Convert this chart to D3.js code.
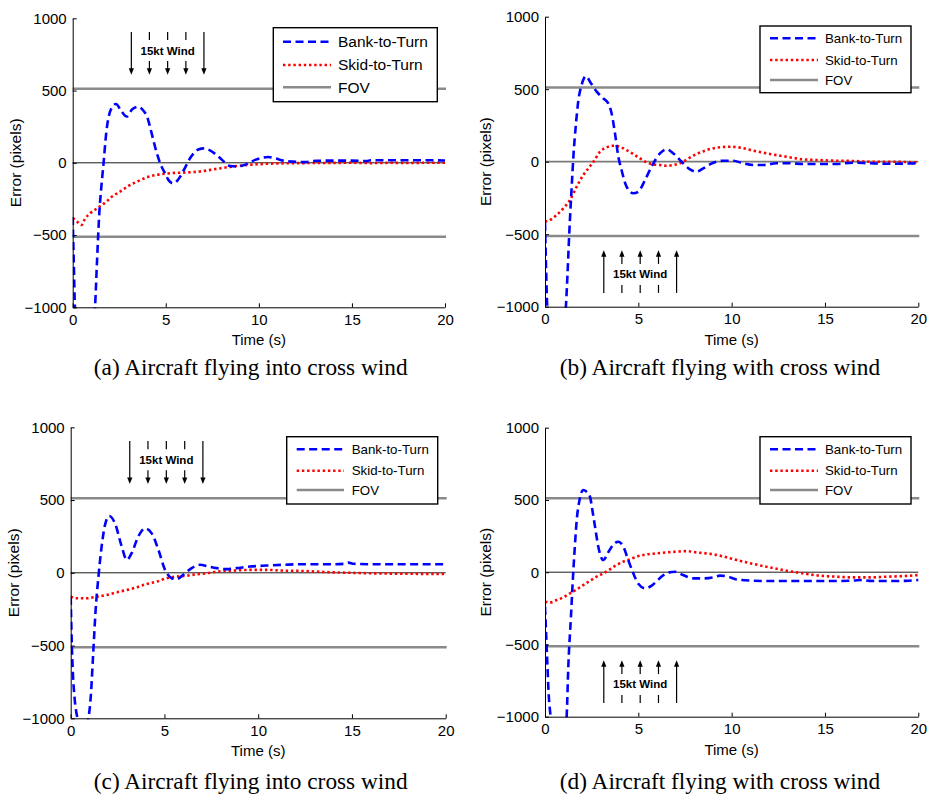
<!DOCTYPE html>
<html>
<head>
<meta charset="utf-8">
<script src="https://cdn.jsdelivr.net/npm/d3@7"></script>
<style>
  body { margin: 0; background: #fff; }
  svg { display: block; }
</style>
</head>
<body>
<div id="chart"></div>
<script>
// values: [time (s), error (pixels)]
var bankA = [[0,-375],[0.06,-700],[0.12,-1000],[0.3,-1250],[0.7,-1350],[1.05,-1200],[1.2,-1000],[1.3,-700],[1.43,-347],[1.55,-150],[1.64,-27],[1.82,227],[2.04,365],[2.33,407],[2.6,360],[2.9,320],[3.2,370],[3.53,388],[3.8,360],[4.0,319],[4.17,240],[4.33,158],[4.5,75],[4.69,0],[4.96,-73],[5.15,-120],[5.4,-142],[5.7,-110],[6.03,-35],[6.25,20],[6.5,65],[6.75,92],[7.05,100],[7.35,88],[7.6,67],[7.9,35],[8.15,5],[8.45,-22],[8.8,-25],[9.1,-20],[9.5,0],[9.8,20],[10.1,32],[10.5,40],[10.9,30],[11.3,15],[11.8,8],[12.5,5],[13.1,14],[14,15],[15,15],[15.8,12],[16,18],[17,18],[18,18],[19,18],[20,16]];
var skidA = [[0,-384],[0.15,-395],[0.3,-415],[0.48,-430],[0.65,-390],[0.93,-350],[1.2,-325],[1.43,-304],[1.8,-270],[2.1,-235],[2.54,-200],[3.0,-160],[3.44,-131],[4.0,-100],[4.5,-84],[5.0,-75],[5.5,-70],[6.1,-67],[6.84,-60],[7.73,-42],[8.63,-25],[9.5,-14],[10.4,-7],[11.5,-3],[12.5,-2],[13.5,-1],[15,0],[16,-2],[17,0],[18,-1],[19,0],[20,0]];

var bankB = [[0,-420],[0.06,-750],[0.12,-1000],[0.3,-1250],[0.7,-1350],[1.0,-1200],[1.12,-1000],[1.2,-793],[1.3,-494],[1.43,-172],[1.52,34],[1.66,264],[1.79,425],[1.96,529],[2.2,590],[2.41,552],[2.77,483],[3.12,437],[3.39,402],[3.57,333],[3.75,195],[3.93,34],[4.1,-57],[4.37,-172],[4.73,-218],[5.0,-207],[5.36,-126],[5.71,-34],[6.16,57],[6.52,85],[6.88,57],[7.32,0],[7.77,-53],[8.12,-69],[8.48,-46],[9.02,-7],[9.55,7],[10.09,7],[10.6,-11],[11.16,-23],[11.7,-23],[12.4,-11],[13.1,-11],[13.8,-16],[15.6,-16],[16.5,-7],[17.4,-11],[18.3,-14],[20,-11]];
var skidB = [[0,-414],[0.27,-402],[0.625,-368],[0.98,-322],[1.34,-264],[1.7,-172],[2.05,-92],[2.32,-46],[2.6,0],[2.95,69],[3.3,99],[3.66,110],[4.0,103],[4.37,80],[4.73,53],[5.09,23],[5.45,-5],[5.8,-18],[6.16,-23],[6.5,-28],[6.88,-23],[7.23,-11],[7.6,16],[8.12,53],[8.66,80],[9.2,97],[9.9,103],[10.45,97],[11.16,76],[12.05,53],[12.95,34],[13.84,16],[14.7,11],[15.6,7],[16.5,5],[17.4,0],[18.3,0],[20,-5]];

var bankC = [[0,-164],[0.05,-450],[0.12,-700],[0.2,-850],[0.36,-1000],[0.5,-1060],[0.75,-1060],[0.94,-1000],[1.07,-851],[1.2,-553],[1.33,-255],[1.48,-26],[1.65,181],[1.83,329],[2.06,390],[2.36,340],[2.72,181],[2.99,89],[3.25,135],[3.6,248],[3.96,305],[4.32,271],[4.68,157],[5.03,20],[5.39,-37],[5.65,-44],[6.0,-14],[6.45,32],[6.9,55],[7.34,43],[7.79,32],[8.32,25],[8.85,32],[9.56,43],[10.45,50],[11.34,55],[12.23,59],[14,59],[14.6,62],[14.8,70],[15.1,62],[16,59],[18,59],[20,59]];
var skidC = [[0,-164],[0.32,-175],[0.85,-175],[1.39,-164],[1.92,-152],[2.45,-134],[2.99,-118],[3.52,-100],[4.05,-77],[4.58,-61],[5.12,-37],[5.65,-26],[6.19,-20],[6.72,-10],[7.25,-3],[7.79,8],[8.67,15],[9.56,20],[10.45,20],[11.34,15],[12.23,13],[13.1,8],[14,3],[14.9,0],[15.8,-3],[17.5,-6],[20,-8]];

var bankD = [[0,-239],[0.1,-550],[0.2,-850],[0.3,-1000],[0.6,-1300],[0.95,-1250],[1.16,-1000],[1.25,-650],[1.39,-308],[1.52,15],[1.6,180],[1.7,361],[1.85,500],[2.05,569],[2.2,560],[2.41,522],[2.55,420],[2.68,315],[2.85,180],[3.12,84],[3.4,140],[3.65,190],[3.93,211],[4.2,176],[4.46,84],[4.73,-8],[5.0,-80],[5.36,-111],[5.7,-95],[6.0,-60],[6.3,-25],[6.7,-1],[6.96,3],[7.4,-20],[7.95,-43],[8.48,-43],[9.0,-36],[9.38,-24],[9.8,-31],[10.27,-50],[11.16,-59],[12.05,-61],[13.84,-61],[15.5,-61],[16.5,-58],[17.05,-54],[17.4,-60],[18.5,-61],[19.3,-60],[20,-54]];
var skidD = [[0,-204],[0.27,-209],[0.625,-193],[0.98,-174],[1.34,-146],[1.7,-119],[2.05,-89],[2.41,-59],[2.77,-31],[3.12,-8],[3.48,20],[3.84,50],[4.2,73],[4.55,89],[4.9,107],[5.45,123],[5.98,130],[6.52,137],[7.05,142],[7.6,146],[8.12,137],[8.66,130],[9.2,119],[9.73,103],[10.27,84],[11.16,57],[12.05,33],[12.95,10],[13.84,-8],[14.7,-24],[15.6,-31],[16.5,-36],[17.4,-36],[18.3,-31],[19.2,-27],[20,-20]];

var fovLimit = 512;
var windTimes = [3.15, 4.12, 5.1, 6.08, 7.05];
var xTicks = [0, 5, 10, 15, 20];
var yTicks = [-1000, -500, 0, 500, 1000];
var legendLabels = ["Bank-to-Turn", "Skid-to-Turn", "FOV"];
var captions = ["(a) Aircraft flying into cross wind", "(b) Aircraft flying with cross wind",
                "(c) Aircraft flying into cross wind", "(d) Aircraft flying with cross wind"];

var panels = [
  {bank: bankA, skid: skidA, x0: 72.7, x1: 445, yT: 18.3, yB: 307.3, down: true, zeroGray: false,
   leg: {x: 273.3, y: 27.7, w: 164, h: 74, s0: 283, s1: 331, tx: 338, rows: [41.7, 65, 87.3], fs: 15.5},
   cap: captions[0], capX: 250.7, capY: 375, ylabX: 21},
  {bank: bankB, skid: skidB, x0: 545, x1: 918.3, yT: 16.7, yB: 306.7, down: false, zeroGray: true,
   leg: {x: 760, y: 26, w: 151, h: 66.7, s0: 770, s1: 818, tx: 825, rows: [38.3, 60, 80], fs: 13.3},
   cap: captions[1], capX: 720, capY: 375, ylabX: 491},
  {bank: bankC, skid: skidC, x0: 70.7, x1: 445.7, yT: 427.3, yB: 718.3, down: true, zeroGray: false,
   leg: {x: 286.7, y: 436.7, w: 151, h: 67.3, s0: 296.7, s1: 344, tx: 351.7, rows: [449.3, 470.7, 490], fs: 13.3},
   cap: captions[2], capX: 250.7, capY: 789, ylabX: 19},
  {bank: bankD, skid: skidD, x0: 545, x1: 918.3, yT: 427.7, yB: 716.7, down: false, zeroGray: false,
   leg: {x: 760, y: 436.7, w: 151, h: 67.3, s0: 770, s1: 818, tx: 825, rows: [449.3, 470.7, 490], fs: 13.3},
   cap: captions[3], capX: 720, capY: 789, ylabX: 491}
];

var svg = d3.select("#chart").append("svg")
  .attr("width", 933).attr("height", 799)
  .style("font-family", "'Liberation Sans', Arial, sans-serif");

var blue = "#0000ff", red = "#ff0000", gray = "#8a8a8a";

function styleAxis(a) {
  a.attr("font-family", null).attr("font-size", null);
  a.selectAll("text").attr("font-size", 15).attr("fill", "#000");
  a.select(".domain").attr("stroke", "#000");
}

panels.forEach(function(p, i) {
  var x = d3.scaleLinear().domain([0, 20]).range([p.x0, p.x1]);
  var y = d3.scaleLinear().domain([-1000, 1000]).range([p.yB, p.yT]);
  var g = svg.append("g");

  g.append("clipPath").attr("id", "clip" + i)
    .append("rect")
    .attr("x", p.x0).attr("y", p.yT - 2)
    .attr("width", p.x1 - p.x0 + 2).attr("height", p.yB - p.yT + 3);

  // zero line
  g.append("line")
    .attr("x1", x(0)).attr("x2", x(20)).attr("y1", y(0)).attr("y2", y(0))
    .attr("stroke", p.zeroGray ? "#7a7a7a" : "#000")
    .attr("stroke-width", p.zeroGray ? 1.8 : 0.9);

  // FOV limits
  [fovLimit, -fovLimit].forEach(function(v) {
    g.append("line")
      .attr("x1", x(0)).attr("x2", x(20) + 1).attr("y1", y(v)).attr("y2", y(v))
      .attr("stroke", gray).attr("stroke-width", 2.4);
  });

  var line = d3.line()
    .x(function(d) { return x(d[0]); })
    .y(function(d) { return y(d[1]); })
    .curve(d3.curveMonotoneX);

  var curves = g.append("g").attr("clip-path", "url(#clip" + i + ")");
  curves.append("path").datum(p.skid).attr("d", line)
    .attr("fill", "none").attr("stroke", red).attr("stroke-width", 2.6)
    .attr("stroke-dasharray", "2.4,2.8");
  curves.append("path").datum(p.bank).attr("d", line)
    .attr("fill", "none").attr("stroke", blue).attr("stroke-width", 2.6)
    .attr("stroke-dasharray", "8,4.5");

  // axes
  g.append("g").attr("transform", "translate(0," + p.yB + ")")
    .call(d3.axisBottom(x).tickValues(xTicks).tickFormat(d3.format("d"))
      .tickSize(-4).tickSizeOuter(0).tickPadding(7))
    .call(styleAxis);
  g.append("g").attr("transform", "translate(" + p.x0 + ",0)")
    .call(d3.axisLeft(y).tickValues(yTicks).tickFormat(d3.format("d"))
      .tickSize(-4).tickSizeOuter(0).tickPadding(6))
    .call(styleAxis);

  g.append("text")
    .attr("x", (p.x0 + p.x1) / 2).attr("y", p.yB + 38)
    .attr("text-anchor", "middle").attr("font-size", 15).text("Time (s)");
  g.append("text")
    .attr("transform", "translate(" + p.ylabX + "," + (p.yT + p.yB) / 2 + ") rotate(-90)")
    .attr("text-anchor", "middle").attr("font-size", 15.5).text("Error (pixels)");
  g.append("text")
    .attr("x", p.capX).attr("y", p.capY)
    .attr("text-anchor", "middle")
    .attr("font-family", "'Liberation Serif', 'Times New Roman', serif")
    .attr("font-size", 23.3).text(p.cap);

  // wind arrows
  var sgn = p.down ? 1 : -1;
  var far = 905 * sgn, near = 610 * sgn, innerFar = 850 * sgn, innerNear = 705 * sgn, mid = 775 * sgn;
  var wind = g.append("g").attr("stroke", "#000").attr("stroke-width", 1.2);
  windTimes.forEach(function(t, k) {
    var outer = (k === 0 || k === windTimes.length - 1);
    var headY = y(near);
    var tipDir = p.down ? 1 : -1;
    if (outer) {
      wind.append("line").attr("x1", x(t)).attr("x2", x(t))
        .attr("y1", y(far)).attr("y2", headY - tipDir * 5);
    } else {
      wind.append("line").attr("x1", x(t)).attr("x2", x(t))
        .attr("y1", y(far)).attr("y2", y(innerFar));
      wind.append("line").attr("x1", x(t)).attr("x2", x(t))
        .attr("y1", y(innerNear)).attr("y2", headY - tipDir * 5);
    }
    wind.append("path")
      .attr("d", "M" + (x(t) - 2.6) + "," + (headY - tipDir * 6.5) +
                 "L" + (x(t) + 2.6) + "," + (headY - tipDir * 6.5) +
                 "L" + x(t) + "," + headY + "Z")
      .attr("fill", "#000").attr("stroke", "none");
  });
  g.append("text")
    .attr("x", x(windTimes[2])).attr("y", y(mid))
    .attr("dy", "0.35em").attr("text-anchor", "middle")
    .attr("font-size", 11.5).attr("font-weight", "bold").text("15kt Wind");

  // legend
  var L = p.leg;
  var lg = g.append("g");
  lg.append("rect").attr("x", L.x).attr("y", L.y).attr("width", L.w).attr("height", L.h)
    .attr("fill", "#fff").attr("stroke", "#000").attr("stroke-width", 1.4);
  var styles = [
    {c: blue, dash: "8,4.5", w: 2.6},
    {c: red, dash: "2.4,2.8", w: 2.6},
    {c: gray, dash: null, w: 2.4}
  ];
  legendLabels.forEach(function(lab, k) {
    lg.append("line").attr("x1", L.s0).attr("x2", L.s1)
      .attr("y1", L.rows[k]).attr("y2", L.rows[k])
      .attr("stroke", styles[k].c).attr("stroke-width", styles[k].w)
      .attr("stroke-dasharray", styles[k].dash);
    lg.append("text").attr("x", L.tx).attr("y", L.rows[k]).attr("dy", "0.35em")
      .attr("font-size", L.fs).text(lab);
  });
});
</script>
</body>
</html>
